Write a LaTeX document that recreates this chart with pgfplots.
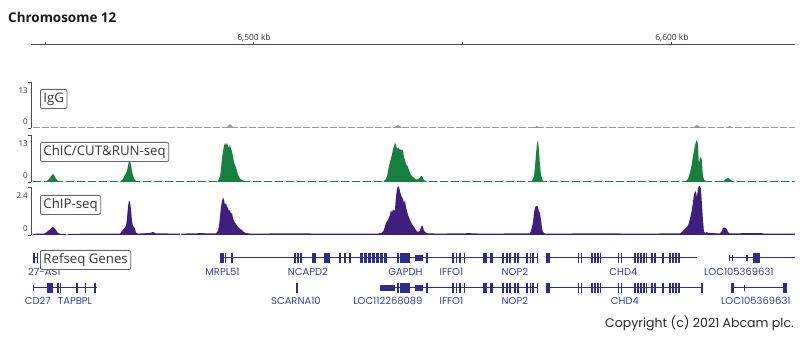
\documentclass[border=0pt]{standalone}
\usepackage{pgfplots}
\pgfplotsset{compat=1.18}
\usepackage{pgfplotstable}
\usepackage{fontspec}
\setmainfont{Open Sans}
\newfontfamily\pop{Poppins}
\definecolor{cgreen}{HTML}{18803F}
\definecolor{cpurple}{HTML}{3F1E7D}
\definecolor{cgray}{HTML}{9A9A9A}
\definecolor{cgene}{HTML}{2A2F8F}
\definecolor{clabel}{HTML}{3340A8}
\pgfplotsset{
 track/.style={scale only axis, width=764bp, xmin=6446.65, xmax=6629.43, ymin=0,
   axis x line=none, axis y line*=left, axis line style={-, draw=black!70, line width=0.9bp},
   xtick=\empty, ytick={0}, tick align=outside, major tick length=3bp,
   every tick/.style={draw=black!70, line width=0.9bp},
   yticklabel style={anchor=south east, yshift=3.5bp, inner sep=0pt, font=\fontsize{8}{9}\selectfont, text=black!80},
   extra y tick style={yticklabel style={anchor=north east, yshift=-9bp}},
   /pgf/number format/assume math mode=true, clip=true}
}
\tikzset{
 lab/.style={draw=black!60, line width=0.8bp, rounded corners=2bp, fill=white, inner xsep=3bp, inner ysep=3bp, text height=10bp, text depth=3.2bp, font=\fontsize{13.3}{15}\selectfont, text=black!78, anchor=north west},
 glab/.style={font=\pop\fontsize{10}{11}\selectfont, text=clabel, inner sep=0pt}
}
\pgfplotstableread{
x r
6534.32 0
6534.68 0
nan nan
6534.92 0
6537.31 0
nan nan
6541.25 0
6541.61 0
nan nan
6547.48 0
6547.83 0
nan nan
6548.31 0
6548.67 0
nan nan
6549.15 0
6549.51 0
nan nan
6550.22 0
6550.58 0
nan nan
6554.77 0
6555.73 0
nan nan
6556.44 0
6557.16 0
nan nan
6559.43 0
6559.79 0
nan nan
6560.27 0
6560.75 0
nan nan
6561.11 0
6561.47 0
nan nan
6562.18 0
6562.66 0
nan nan
6563.02 0
6563.38 0
nan nan
6565.17 0
6565.53 0
nan nan
6566.01 0
6566.37 0
nan nan
6566.61 0
6566.97 0
nan nan
6567.69 0
6568.05 0
nan nan
6569.96 0
6570.80 0
nan nan
6577.49 0
6577.85 0
nan nan
6578.21 0
6578.57 0
nan nan
6580.72 0
6581.08 0
nan nan
6581.44 0
6581.80 0
nan nan
6582.16 0
6582.52 0
nan nan
6582.76 0
6583.12 0
nan nan
6587.06 0
6587.42 0
nan nan
6587.78 0
6588.14 0
nan nan
6591.01 0
6591.37 0
nan nan
6591.73 0
6592.08 0
nan nan
6592.44 0
6592.80 0
nan nan
6593.16 0
6593.52 0
nan nan
6593.76 0
6594.12 0
nan nan
6595.07 0
6595.43 0
nan nan
6595.79 0
6596.15 0
nan nan
6597.71 0
6598.06 0
nan nan
6599.38 0
6599.74 0
nan nan
6600.10 0
6600.46 0
nan nan
6600.82 0
6601.17 0
nan nan
6601.53 0
6601.89 0
}\sharedtall
\begin{document}
\begin{tikzpicture}
\useasboundingbox (0bp,0bp) rectangle (800bp,358bp);
\node[anchor=base west, font=\bfseries\fontsize{13.5}{16}\selectfont, text=black!90, inner sep=0pt] at (8bp,335bp) {Chromosome 12};
% ruler
\begin{axis}[scale only axis, width=764bp, height=10bp, at={(31bp,313bp)}, anchor=north west,
  xmin=6446.65, xmax=6629.43, ymin=0, ymax=1, axis x line=top, axis y line=none,
  axis line style={-, draw=black!70, line width=1bp},
  xtick={6500,6600}, xticklabels={{6,500 kb},{6,600 kb}}, extra x ticks={6450,6550}, extra x tick labels={},
  tick align=outside, major tick length=3bp, every tick/.style={draw=black!70, line width=1bp},
  xticklabel style={font=\fontsize{8.5}{10}\selectfont, text=black!80, inner sep=0.5bp}, ytick=\empty]
\addplot[draw=none] coordinates {(6500,0.5)};
\end{axis}
% IgG
\begin{axis}[track, height=46bp, ymax=13, at={(31bp,230bp)}, anchor=south west, extra y ticks={13}]
\addplot[cgray, line width=1bp, dash pattern=on 7bp off 2bp] coordinates {(6447.13,0.25)(6629.43,0.25)};
\addplot[fill=cgray, draw=none] coordinates {
(6447.13,0)(6493.30,0)(6493.77,0.6)(6494.25,1.1)(6494.73,0.6)(6495.21,0)
(6533.50,0)(6533.96,0.5)(6534.44,0.9)(6534.92,0.5)(6535.40,0)
(6567.00,0)(6567.45,0.4)(6567.69,0.7)(6567.93,0.4)(6568.40,0)
(6605.00,0)(6605.48,0.5)(6605.96,0.9)(6606.44,0.5)(6607.00,0)
(6613.00,0)(6613.50,0.4)(6613.85,0.6)(6614.20,0.4)(6614.70,0)(6629.43,0)} \closedcycle;
\end{axis}
% ChIC
\begin{axis}[track, height=47bp, ymax=13, at={(31bp,176bp)}, anchor=south west, extra y ticks={13}]
\addplot[cgreen, line width=1bp, dash pattern=on 8bp off 3bp] coordinates {(6447.13,0.2)(6629.43,0.2)};
\addplot[fill=cgreen, draw=none] coordinates {
(6447.13,0)(6450.24,0)(6450.48,0.3)(6450.96,0.8)(6451.44,1.6)(6451.91,2.2)(6452.15,2.0)(6452.63,0.9)(6453.11,0.3)(6453.30,0)
(6467.94,0)(6468.18,0.3)(6468.66,0.9)(6469.14,2.0)(6469.61,3.0)(6469.85,4.5)(6470.09,5.7)(6470.33,5.5)(6470.57,5.0)(6470.81,3.0)(6471.05,1.8)(6471.29,1.0)(6471.77,0.3)(6472.00,0)
(6491.20,0)(6491.38,0.3)(6491.86,1.5)(6492.10,3.5)(6492.34,6.5)(6492.58,8.5)(6492.82,10.0)(6493.06,10.8)(6493.30,10.2)(6493.53,10.8)(6493.77,10.0)(6494.01,9.5)(6494.25,10.3)(6494.49,9.2)(6494.73,8.5)(6494.97,7.0)(6495.21,5.5)(6495.69,4.0)(6496.17,2.0)(6496.64,1.0)(6497.12,0.5)(6497.60,0.3)(6497.80,0)
(6530.90,0)(6531.09,0.3)(6531.57,0.8)(6531.81,1.5)(6532.05,3.0)(6532.52,5.5)(6532.76,6.5)(6533.00,7.5)(6533.24,9.0)(6533.48,9.8)(6533.72,10.8)(6533.96,10.5)(6534.20,9.0)(6534.44,9.5)(6534.68,9.2)(6534.92,8.9)(6535.16,9.0)(6535.39,8.8)(6535.63,8.9)(6535.87,7.0)(6536.11,6.2)(6536.35,5.0)(6536.83,4.2)(6537.31,2.5)(6537.79,1.6)(6538.26,1.2)(6538.74,0.7)(6539.22,0.8)(6539.70,1.2)(6539.94,1.6)(6540.18,1.6)(6540.42,1.2)(6540.66,0.5)(6541.14,0.3)(6541.30,0)
(6566.30,0)(6566.49,0.3)(6566.97,1.5)(6567.21,4.0)(6567.45,7.5)(6567.69,10.5)(6567.93,11.6)(6568.16,9.0)(6568.40,5.0)(6568.64,2.0)(6569.12,0.3)(6569.30,0)
(6603.10,0)(6603.33,0.3)(6603.81,0.8)(6604.28,2.5)(6604.76,5.0)(6605.00,7.0)(6605.24,8.5)(6605.48,10.0)(6605.72,11.0)(6605.96,11.6)(6606.20,10.5)(6606.44,5.0)(6606.68,6.5)(6606.92,7.0)(6607.15,6.0)(6607.39,1.5)(6607.87,0.3)(6608.00,0)
(6612.20,0)(6612.42,0.3)(6612.90,0.9)(6613.37,1.1)(6613.85,0.8)(6614.33,0.3)(6614.50,0)(6629.43,0)} \closedcycle;
\end{axis}
% ChIP
\begin{axis}[track, height=48bp, ymax=2.4, at={(31bp,123bp)}, anchor=south west, extra y ticks={2.4}]
\addplot[fill=cpurple, draw=none] coordinates {
(6447.13,0.06)(6449.76,0.07)(6450.24,0.12)(6450.72,0.20)(6451.20,0.28)(6451.67,0.38)(6451.91,0.42)(6452.15,0.36)(6452.63,0.25)(6453.11,0.10)(6453.59,0.06)(6455.02,0.06)(6455.10,0)(6455.40,0)(6455.45,0.06)
(6467.94,0.07)(6468.42,0.20)(6468.90,0.33)(6469.38,0.45)(6469.61,0.80)(6469.85,1.40)(6470.09,1.72)(6470.33,1.65)(6470.57,1.30)(6470.81,0.70)(6471.05,0.45)(6471.29,0.40)(6471.53,0.33)(6471.77,0.12)(6472.25,0.07)
(6475.12,0.10)(6475.83,0.15)(6476.55,0.08)(6482.29,0.07)(6482.35,0)(6482.60,0)(6482.65,0.07)(6487.08,0.09)
(6490.90,0.08)(6491.38,0.20)(6491.62,0.45)(6491.86,0.90)(6492.10,1.40)(6492.34,1.70)(6492.58,1.88)(6492.82,1.75)(6493.06,1.50)(6493.30,1.62)(6493.53,1.40)(6493.77,1.36)(6494.01,1.20)(6494.25,1.25)(6494.49,1.05)(6494.73,1.10)(6494.97,0.85)(6495.21,0.70)(6495.69,0.55)(6496.17,0.40)(6496.64,0.31)(6497.12,0.25)(6497.60,0.15)(6498.08,0.10)(6499.04,0.07)
(6508.60,0.08)(6518.17,0.07)(6529.65,0.07)(6530.61,0.12)(6531.09,0.25)(6531.33,0.45)(6531.57,0.60)(6532.05,0.75)(6532.52,1.00)(6532.76,1.25)(6533.00,1.10)(6533.24,1.30)(6533.48,1.20)(6533.72,1.25)(6533.96,1.90)(6534.20,2.30)(6534.44,2.45)(6534.68,2.40)(6534.92,2.20)(6535.16,2.00)(6535.39,1.90)(6535.63,1.80)(6535.87,1.60)(6536.11,1.75)(6536.35,1.40)(6536.59,1.20)(6536.83,1.00)(6537.07,0.90)(6537.31,0.75)(6537.79,0.55)(6538.26,0.40)(6538.74,0.25)(6539.22,0.15)(6539.70,0.20)(6539.94,0.40)(6540.18,0.47)(6540.42,0.42)(6540.66,0.20)(6541.14,0.12)(6541.61,0.08)
(6544.48,0.07)(6551.66,0.09)(6554.05,0.07)(6566.01,0.08)(6566.25,0.20)(6566.73,0.60)(6566.97,1.10)(6567.21,1.35)(6567.45,1.46)(6567.69,1.46)(6567.93,1.40)(6568.16,1.20)(6568.40,1.10)(6568.64,0.80)(6568.88,0.40)(6569.12,0.15)(6569.60,0.07)
(6582.76,0.08)(6592.32,0.07)(6601.89,0.08)(6602.37,0.15)(6602.85,0.25)(6603.33,0.35)(6603.81,0.47)(6604.04,0.60)(6604.28,0.80)(6604.52,1.00)(6604.76,1.25)(6605.00,1.60)(6605.24,2.00)(6605.48,2.15)(6605.72,2.19)(6605.96,1.90)(6606.20,2.30)(6606.44,2.45)(6606.68,2.45)(6606.92,2.30)(6607.15,1.60)(6607.39,0.80)(6607.63,0.20)(6607.87,0.10)(6608.35,0.15)(6608.59,0.10)
(6611.46,0.08)(6611.94,0.20)(6612.18,0.37)(6612.66,0.37)(6613.13,0.30)(6613.37,0.15)(6613.85,0.08)(6621.03,0.10)(6622.22,0.07)(6629.43,0.07)} \closedcycle;
\end{axis}
% genes
\begin{axis}[scale only axis, width=764bp, height=65bp, at={(31bp,48bp)}, anchor=south west,
  xmin=6446.65, xmax=6629.43, ymin=245, ymax=310, y dir=reverse, hide axis, clip=false, unbounded coords=jump]
\addplot[cgene, line width=1bp] coordinates {
(6447.13,257.5)(6448.33,257.5)(6450,nan)
(6491.86,257.5)(6568.05,257.5)(6569,nan)
(6569.96,257.5)(6606.08,257.5)(6610,nan)
(6613.73,257.5)(6629.43,257.5)(6629,nan)
(6447.13,287.5)(6462.44,287.5)(6470,nan)
(6530.13,287.5)(6568.05,287.5)(6569,nan)
(6569.96,287.5)(6607.39,287.5)(6610,nan)
(6614.09,287.5)(6627.49,287.5)};
\addplot[cgene, line width=10bp] table[x=x, y expr=257.5] {\sharedtall};
\addplot[cgene, line width=10bp] table[x=x, y expr=287.5] {\sharedtall};
\addplot[cgene, line width=10bp] coordinates {
(6447.13,257.5)(6447.49,257.5)(6447.7,nan)
(6447.97,257.5)(6448.33,257.5)(6450,nan)
(6491.86,257.5)(6492.82,257.5)(6493,nan)
(6493.18,257.5)(6493.42,257.5)(6494,nan)
(6494.61,257.5)(6494.97,257.5)(6495,nan)
(6509.68,257.5)(6510.04,257.5)(6510.2,nan)
(6510.40,257.5)(6510.76,257.5)(6511,nan)
(6511.12,257.5)(6511.47,257.5)(6512,nan)
(6513.99,257.5)(6514.83,257.5)(6515,nan)
(6516.86,257.5)(6518.29,257.5)(6519,nan)
(6520.44,257.5)(6520.80,257.5)(6521,nan)
(6521.64,257.5)(6522.00,257.5)(6522.5,nan)
(6522.84,257.5)(6523.20,257.5)(6524,nan)
(6525.35,257.5)(6526.07,257.5)(6526.2,nan)
(6526.30,257.5)(6527.02,257.5)(6527.1,nan)
(6527.26,257.5)(6527.98,257.5)(6528.1,nan)
(6528.22,257.5)(6528.94,257.5)(6529.0,nan)
(6529.18,257.5)(6529.89,257.5)(6530.0,nan)
(6530.13,257.5)(6530.85,257.5)(6531.0,nan)
(6531.09,257.5)(6531.81,257.5)(6532,nan)
(6619.35,257.5)(6621.03,257.5)(6622,nan)
(6450.48,287.5)(6451.91,287.5)(6452,nan)
(6452.87,287.5)(6453.23,287.5)(6453.3,nan)
(6453.47,287.5)(6453.83,287.5)(6454,nan)
(6457.53,287.5)(6457.89,287.5)(6458,nan)
(6459.45,287.5)(6459.81,287.5)(6460,nan)
(6461.84,287.5)(6462.20,287.5)(6463,nan)
(6510.16,287.5)(6510.52,287.5)(6511,nan)
(6607.04,287.5)(6607.39,287.5)(6608,nan)
(6614.09,287.5)(6614.80,287.5)(6615,nan)
(6626.53,287.5)(6627.49,287.5)};
\addplot[cgene, line width=6bp] coordinates {
(6538.50,257.5)(6540.42,257.5)(6541,nan)
(6613.73,257.5)(6613.97,257.5)(6614.1,nan)
(6614.45,257.5)(6614.69,257.5)(6615,nan)
(6617.68,257.5)(6618.16,257.5)(6619,nan)
(6447.13,287.5)(6447.45,287.5)(6448,nan)
(6530.13,287.5)(6533.72,287.5)(6534,nan)
(6538.50,287.5)(6540.42,287.5)(6541,nan)
(6617.32,287.5)(6617.56,287.5)};
\node[glab, anchor=west] at (axis cs:6445.93,272) {27-AS1};
\node[glab] at (axis cs:6492.46,272) {MRPL51};
\node[glab] at (axis cs:6512.91,272) {NCAPD2};
\node[glab] at (axis cs:6536.23,272) {GAPDH};
\node[glab] at (axis cs:6547.24,272) {IFFO1};
\node[glab] at (axis cs:6562.42,272) {NOP2};
\node[glab] at (axis cs:6588.38,272) {CHD4};
\node[glab] at (axis cs:6616.00,272) {LOC105369631};
\node[glab, anchor=east] at (axis cs:6451.43,301) {CD27};
\node[glab] at (axis cs:6457.18,301) {TAPBPL};
\node[glab] at (axis cs:6510.04,301) {SCARNA10};
\node[glab] at (axis cs:6532.05,301) {LOC112268089};
\node[glab] at (axis cs:6547.24,301) {IFFO1};
\node[glab] at (axis cs:6562.42,301) {NOP2};
\node[glab] at (axis cs:6588.74,301) {CHD4};
\node[glab] at (axis cs:6620.07,301) {LOC105369631};
\end{axis}
\node[lab] at (40bp,269bp) {IgG};
\node[lab] at (40bp,216bp) {ChIC/CUT\&RUN-seq};
\node[lab] at (40bp,163bp) {ChIP-seq};
\node[lab] at (40bp,108bp) {Refseq Genes};
\node[anchor=east, font=\pop\fontsize{12.6}{14}\selectfont, text=black!85, inner sep=0pt] at (794bp,35bp) {Copyright (c) 2021 Abcam plc.};
\end{tikzpicture}
\end{document}
